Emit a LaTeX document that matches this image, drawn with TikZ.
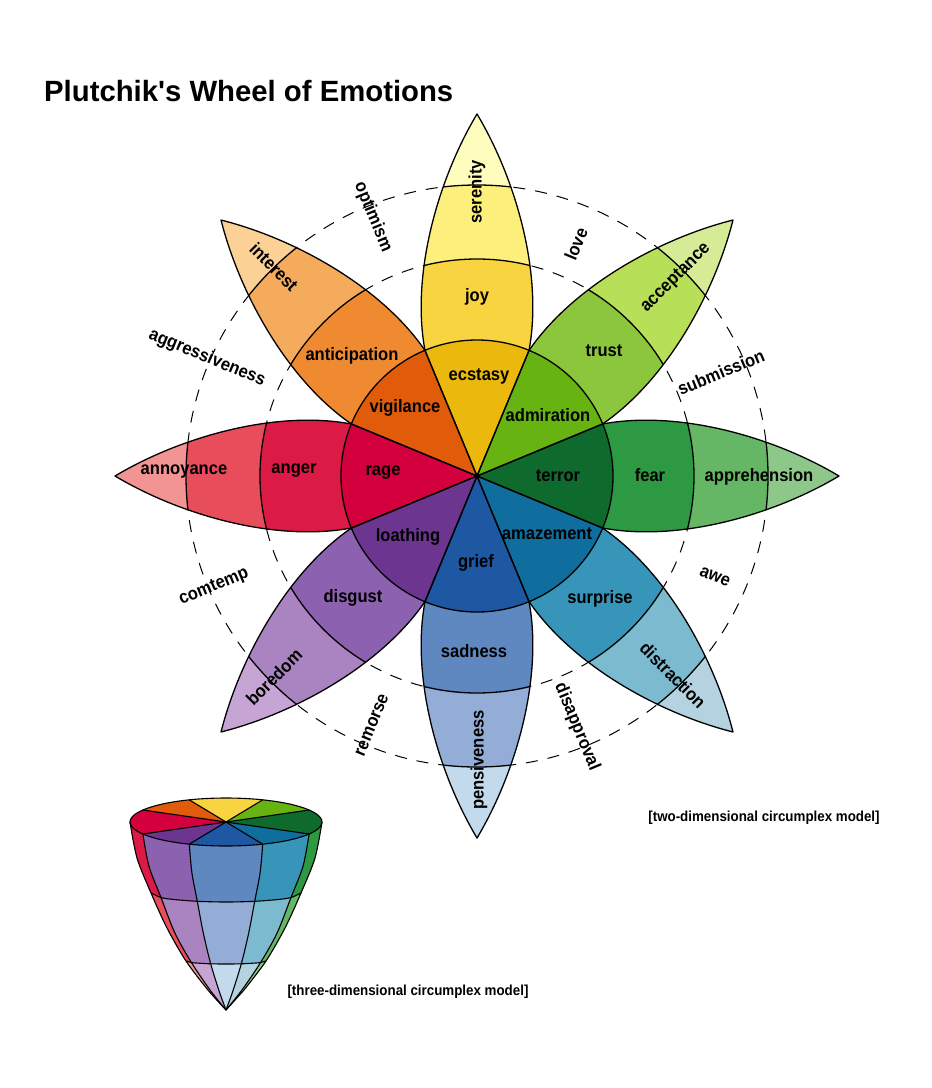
\documentclass[tikz,border=0pt]{standalone}
\usepackage{fontspec}
\setmainfont{Liberation Sans}
\newfontfamily\lblfont{Liberation Sans}[FakeStretch=0.92]
\newfontfamily\titlefont{Liberation Sans}

\definecolor{cecst}{HTML}{EBB90E}
\definecolor{cjoy}{HTML}{F8D440}
\definecolor{csere}{HTML}{FDEF7C}
\definecolor{cseret}{HTML}{FFFDBE}
\definecolor{cadmi}{HTML}{66B312}
\definecolor{ctrus}{HTML}{8CC63C}
\definecolor{cacce}{HTML}{B8DF58}
\definecolor{cacct}{HTML}{D5EB96}
\definecolor{cterr}{HTML}{0F6A2E}
\definecolor{cfear}{HTML}{2D9942}
\definecolor{cappr}{HTML}{65B765}
\definecolor{cappt}{HTML}{8DC88A}
\definecolor{camaz}{HTML}{0F6E9E}
\definecolor{csurp}{HTML}{3695B8}
\definecolor{cdist}{HTML}{7CBACF}
\definecolor{cdistt}{HTML}{B4D2E0}
\definecolor{cgrie}{HTML}{1E58A2}
\definecolor{csadn}{HTML}{5F88C0}
\definecolor{cpens}{HTML}{93ADD6}
\definecolor{cpenst}{HTML}{C3DAEC}
\definecolor{cloat}{HTML}{6C3590}
\definecolor{cdisg}{HTML}{8C61AF}
\definecolor{cbore}{HTML}{AA84C0}
\definecolor{cboret}{HTML}{C6A5D5}
\definecolor{crage}{HTML}{D3003D}
\definecolor{cange}{HTML}{DC1A46}
\definecolor{canno}{HTML}{E84D5C}
\definecolor{cannot}{HTML}{F29494}
\definecolor{cvigi}{HTML}{E05C0A}
\definecolor{canti}{HTML}{F08A30}
\definecolor{cinte}{HTML}{F5AB5C}
\definecolor{cintet}{HTML}{FBD196}

\tikzset{
  lbl/.style={font=\lblfont\bfseries\fontsize{18}{20}\selectfont, inner sep=0pt},
  captxt/.style={font=\lblfont\bfseries\fontsize{14.5}{16}\selectfont, inner sep=0pt},
  pedge/.style={line width=1.3pt, line join=round},
  dashcirc/.style={line width=1pt, dash pattern=on 12pt off 10pt},
  cedge/.style={line width=1.1pt, line join=round},
}

\newcommand\PetalFill[5]{%
\begin{scope}[shift={(477,476)},rotate=#1]
\clip (0,0) -- (125.6,52) .. controls (200,66) and (295,40) .. (362,0) .. controls (295,-40) and (200,-66) .. (125.6,-52) -- cycle;
\fill[#5] (0,0) circle (400);
\fill[#4] (0,0) circle (291);
\fill[#3] (0,0) circle (217);
\fill[#2] (0,0) circle (136);
\draw[pedge] (0,0) circle (291) (0,0) circle (217);
\end{scope}}

\newcommand\PetalLine[1]{%
\draw[pedge,shift={(477,476)},rotate=#1] (0,0) -- (125.6,52) .. controls (200,66) and (295,40) .. (362,0) .. controls (295,-40) and (200,-66) .. (125.6,-52) -- cycle;}

\newcommand\ConeStrip[5]{%
\begin{scope}
\clip plot[smooth] coordinates {#1} -- plot[smooth] coordinates {#2} -- cycle;
\fill[#3] (100,790) rectangle (350,1030);
\fill[#4] (100,893) -- plot[smooth] coordinates {(151,893) (161,897.5) (173,899.4) (197.3,901.3) (226,902) (254.7,901.3) (279,899.4) (291,897.5) (301,893)} -- (350,893) -- (350,1030) -- (100,1030) -- cycle;
\fill[#5] (100,961) -- plot[smooth] coordinates {(186,961) (191.4,962.5) (197.7,963.1) (210.7,963.8) (226,964) (241.3,963.8) (254.3,963.1) (260.6,962.5) (266,961)} -- (350,961) -- (350,1030) -- (100,1030) -- cycle;
\end{scope}}

\begin{document}
\begin{tikzpicture}[x=1pt,y=-1pt]
\useasboundingbox (0,0) rectangle (932,1088);
\fill[white] (0,0) rectangle (932,1088);

% title
\node[anchor=base west, inner sep=0pt, font=\titlefont\bfseries\fontsize{29.3}{32}\selectfont] (title) at (44,101) {Plutchik's Wheel of Emotions};

% dashed circles
\draw[dashcirc] (477,476) circle (217);
\draw[dashcirc] (477,476) circle (291);

% petals
\PetalFill{0}{cterr}{cfear}{cappr}{cappt}
\PetalFill{45}{cadmi}{ctrus}{cacce}{cacct}
\PetalFill{90}{cecst}{cjoy}{csere}{cseret}
\PetalFill{135}{cvigi}{canti}{cinte}{cintet}
\PetalFill{180}{crage}{cange}{canno}{cannot}
\PetalFill{225}{cloat}{cdisg}{cbore}{cboret}
\PetalFill{270}{cgrie}{csadn}{cpens}{cpenst}
\PetalFill{315}{camaz}{csurp}{cdist}{cdistt}
\foreach \a in {0,45,...,315} {\PetalLine{\a}}
\draw[pedge] (477,476) circle (136);

% inner labels
\node[lbl] (ecstasy) at (479,376) {ecstasy};
\node[lbl] (vigilance) at (405,408) {vigilance};
\node[lbl] (admiration) at (548,415) {admiration};
\node[lbl] (terror) at (558,476) {terror};
\node[lbl] (amazement) at (547,534) {amazement};
\node[lbl] (grief) at (476,563) {grief};
\node[lbl] (loathing) at (408,537) {loathing};
\node[lbl] (rage) at (383,473) {rage};
% middle labels
\node[lbl] (joy) at (477,297) {joy};
\node[lbl] (anticipation) at (352,356) {anticipation};
\node[lbl] (trust) at (604,351) {trust};
\node[lbl] (fear) at (650,475) {fear};
\node[lbl] (surprise) at (600,599) {surprise};
\node[lbl] (sadness) at (474,651) {sadness};
\node[lbl] (disgust) at (353,598) {disgust};
\node[lbl] (anger) at (294,471) {anger};
% outer labels
\node[lbl, rotate=90] (serenity) at (477,192) {serenity};
\node[lbl, rotate=-45] (interest) at (274,267) {interest};
\node[lbl, rotate=45] (acceptance) at (676,278) {acceptance};
\node[lbl] (apprehension) at (759,477) {apprehension};
\node[lbl, rotate=-45] (distraction) at (673,675) {distraction};
\node[lbl, rotate=90] (pensiveness) at (479,760) {pensiveness};
\node[lbl, rotate=45] (boredom) at (274,677) {boredom};
\node[lbl] (annoyance) at (184,472) {annoyance};
% dyads
\node[lbl, rotate=-67.5] (optimism) at (373,217) {optimism};
\node[lbl, rotate=67.5] (love) at (576,244) {love};
\node[lbl, rotate=22.5] (submission) at (721,372) {submission};
\node[lbl, rotate=-22.5] (awe) at (715,577) {awe};
\node[lbl, rotate=-67.5] (disapproval) at (577,727) {disapproval};
\node[lbl, rotate=67.5] (remorse) at (372,725) {remorse};
\node[lbl, rotate=22.5] (contempt) at (214,587) {comtemp};
\node[lbl, rotate=-22.5] (aggressiveness) at (207,358) {aggressiveness};

\node[captxt] (cap2d) at (764,818) {[two-dimensional circumplex model]};
\node[captxt] (cap3d) at (408,992) {[three-dimensional circumplex model]};

% ---------- cone ----------
\ConeStrip{(130,822) (137,858) (151,893) (167,928) (186,961) (208,990) (226,1010)}{(226,1010) (210.4,990.5) (191.4,962.5) (174.9,933) (161,897.5) (148.9,866) (142.9,834)}{cange}{canno}{cannot}
\ConeStrip{(142.9,834) (148.9,866) (161,897.5) (174.9,933) (191.4,962.5) (210.4,990.5) (226,1010)}{(226,1010) (219.1,991) (210.7,963.8) (203.4,933.5) (197.3,901.3) (191.9,872.8) (189.3,844.2)}{cdisg}{cbore}{cboret}
\ConeStrip{(189.3,844.2) (191.9,872.8) (197.3,901.3) (203.4,933.5) (210.7,963.8) (219.1,991) (226,1010)}{(226,1010) (232.9,991) (241.3,963.8) (248.6,933.5) (254.7,901.3) (260.1,872.8) (262.7,844.2)}{csadn}{cpens}{cpenst}
\ConeStrip{(262.7,844.2) (260.1,872.8) (254.7,901.3) (248.6,933.5) (241.3,963.8) (232.9,991) (226,1010)}{(226,1010) (241.6,990.5) (260.6,962.5) (277.1,933) (291,897.5) (303.1,866) (309.1,834)}{csurp}{cdist}{cdistt}
\ConeStrip{(309.1,834) (303.1,866) (291,897.5) (277.1,933) (260.6,962.5) (241.6,990.5) (226,1010)}{(226,1010) (244,990) (266,961) (285,928) (301,893) (315,858) (322,822)}{cfear}{cappr}{cappt}

\draw[cedge] plot[smooth] coordinates {(142.9,834) (148.9,866) (161,897.5) (174.9,933) (191.4,962.5) (210.4,990.5) (226,1010)};
\draw[cedge] plot[smooth] coordinates {(189.3,844.2) (191.9,872.8) (197.3,901.3) (203.4,933.5) (210.7,963.8) (219.1,991) (226,1010)};
\draw[cedge] plot[smooth] coordinates {(262.7,844.2) (260.1,872.8) (254.7,901.3) (248.6,933.5) (241.3,963.8) (232.9,991) (226,1010)};
\draw[cedge] plot[smooth] coordinates {(309.1,834) (303.1,866) (291,897.5) (277.1,933) (260.6,962.5) (241.6,990.5) (226,1010)};
\draw[cedge] plot[smooth] coordinates {(151,893) (161,897.5) (173,899.4) (197.3,901.3) (226,902) (254.7,901.3) (279,899.4) (291,897.5) (301,893)};
\draw[cedge] plot[smooth] coordinates {(186,961) (191.4,962.5) (197.7,963.1) (210.7,963.8) (226,964) (241.3,963.8) (254.3,963.1) (260.6,962.5) (266,961)};
\draw[cedge] plot[smooth] coordinates {(130,822) (137,858) (151,893) (167,928) (186,961) (208,990) (226,1010)} -- plot[smooth] coordinates {(244,990) (266,961) (285,928) (301,893) (315,858) (322,822)};

% top disk
\begin{scope}[shift={(226,822)}, yscale=0.25]
\begin{scope}
\clip (0,0) circle (96);
\fill[cterr] (0,0) -- (-30:200) -- (30:200) -- cycle;
\fill[cadmi] (0,0) -- (-67.5:200) -- (-30:200) -- cycle;
\fill[cjoy] (0,0) -- (-112.5:200) -- (-67.5:200) -- cycle;
\fill[cvigi] (0,0) -- (-150:200) -- (-112.5:200) -- cycle;
\fill[crage] (0,0) -- (150:200) -- (210:200) -- cycle;
\fill[cloat] (0,0) -- (112.5:200) -- (150:200) -- cycle;
\fill[cgrie] (0,0) -- (67.5:200) -- (112.5:200) -- cycle;
\fill[camaz] (0,0) -- (30:200) -- (67.5:200) -- cycle;
\end{scope}
\foreach \t in {30,67.5,112.5,150,210,247.5,292.5,330} {\draw[cedge] (0,0) -- (\t:96);}
\draw[cedge] (0,0) circle (96);
\end{scope}
\end{tikzpicture}
\end{document}
